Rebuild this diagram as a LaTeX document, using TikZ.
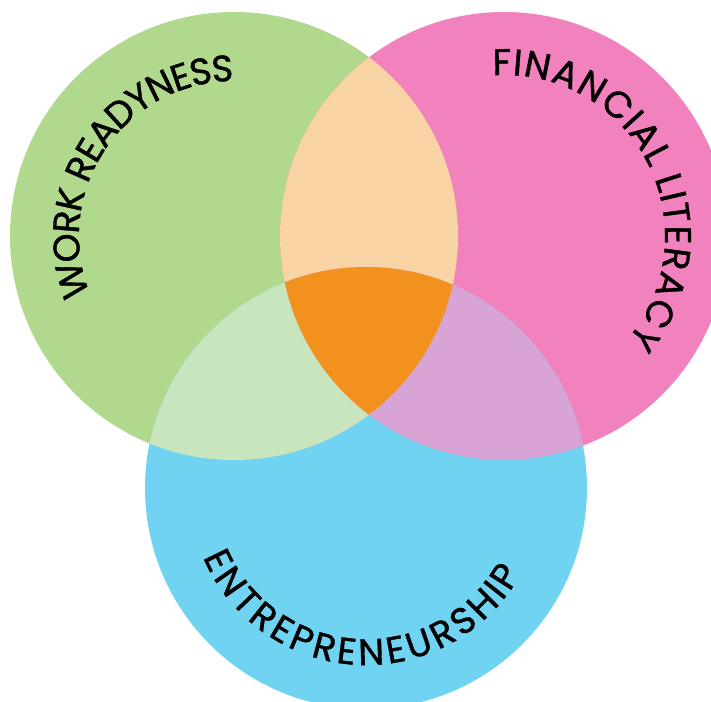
\documentclass[tikz,border=0pt]{standalone}
\usepackage{fontspec}
\newfontfamily\labelfont[FakeBold=1.0]{Poppins}
\usetikzlibrary{decorations.text,calc}
\definecolor{cgreen}{HTML}{B0D98D}
\definecolor{cpink}{HTML}{F282BD}
\definecolor{cblue}{HTML}{70D3F1}
\definecolor{cpeach}{HTML}{F8D3A4}
\definecolor{corange}{HTML}{F2911E}
\definecolor{clgreen}{HTML}{C9E5BD}
\definecolor{clilac}{HTML}{D8A4D6}
\tikzset{
  arclabel/.style={decorate, decoration={text effects along path, text={#1},
    text effects/.cd, text along path, fit text to path,
    every character/.style={font=\labelfont\fontsize{37}{37}\selectfont, text=black, inner sep=0pt}}}
}
\begin{document}
\begin{tikzpicture}[x=1pt,y=1pt]
\useasboundingbox (0,0) rectangle (711,701);
\clip (0,0) rectangle (711,701);
\coordinate (G) at (234,465);
\coordinate (P) at (504,465);
\coordinate (B) at (366,213);
\def\rG{224}\def\rP{224}\def\rB{221}
% base circles
\fill[cgreen] (G) circle[radius=\rG];
\fill[cpink] (P) circle[radius=\rP];
\fill[cblue] (B) circle[radius=\rB];
% pairwise intersections
\begin{scope}
  \clip (G) circle[radius=\rG];
  \fill[cpeach] (P) circle[radius=\rP];
  \fill[clgreen] (B) circle[radius=\rB];
\end{scope}
\begin{scope}
  \clip (P) circle[radius=\rP];
  \fill[clilac] (B) circle[radius=\rB];
\end{scope}
\begin{scope}
  \clip (G) circle[radius=\rG];
  \clip (P) circle[radius=\rP];
  \fill[corange] (B) circle[radius=\rB];
\end{scope}
% labels
\path[arclabel={WORK READYNESS}]
  ($(G)+(202:155)$) arc[start angle=202, end angle=90, radius=155];
\path[arclabel={FINANCIAL LITERACY}]
  ($(P)+(94:161)$) arc[start angle=94, end angle=-40, radius=161];
\path[arclabel={ENTREPRENEURSHIP}]
  ($(B)+(203:177)$) arc[start angle=203, end angle=331, radius=177];
\end{tikzpicture}
\end{document}
